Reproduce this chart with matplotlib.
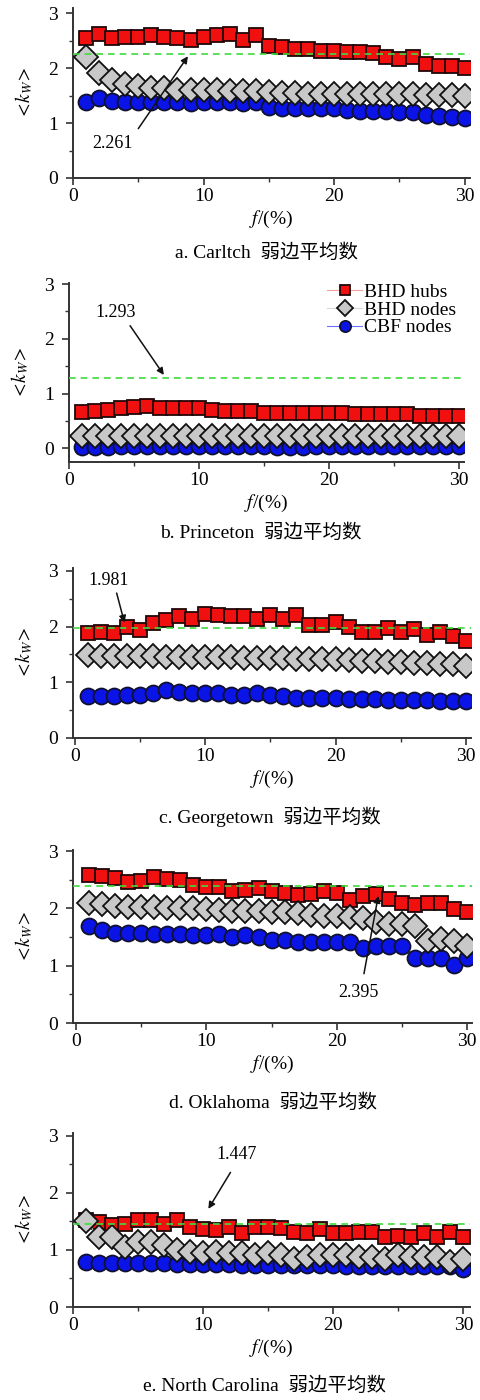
import matplotlib.pyplot as plt
from matplotlib.ticker import MultipleLocator

plt.rcParams['font.family'] = ['Liberation Serif', 'Noto Sans CJK SC']
plt.rcParams['mathtext.fontset'] = 'stix'

f = list(range(1, 31))

# <k_w> of BHD hubs, BHD nodes and CBF nodes for each network
carltch_hubs = [2.56, 2.62, 2.55, 2.58, 2.58, 2.60, 2.58, 2.56, 2.52, 2.58, 2.60, 2.63, 2.52, 2.60, 2.41,
                2.38, 2.35, 2.35, 2.32, 2.32, 2.29, 2.30, 2.28, 2.20, 2.17, 2.20, 2.08, 2.05, 2.05, 2.01]
carltch_nodes = [2.20, 1.91, 1.78, 1.72, 1.67, 1.65, 1.64, 1.61, 1.60, 1.60, 1.60, 1.59, 1.59, 1.58, 1.56,
                 1.55, 1.55, 1.54, 1.54, 1.54, 1.54, 1.54, 1.53, 1.53, 1.53, 1.53, 1.52, 1.52, 1.51, 1.49]
carltch_cbf = [1.39, 1.45, 1.41, 1.39, 1.39, 1.39, 1.38, 1.38, 1.37, 1.38, 1.39, 1.39, 1.37, 1.39, 1.30,
               1.28, 1.28, 1.28, 1.27, 1.27, 1.24, 1.23, 1.23, 1.22, 1.21, 1.21, 1.14, 1.13, 1.12, 1.10]

princeton_hubs = [0.67, 0.68, 0.70, 0.73, 0.76, 0.77, 0.74, 0.73, 0.73, 0.73, 0.70, 0.68, 0.68, 0.68, 0.65,
                  0.65, 0.65, 0.65, 0.65, 0.65, 0.65, 0.62, 0.62, 0.62, 0.62, 0.62, 0.59, 0.59, 0.59, 0.59]
princeton_nodes = [0.23, 0.23, 0.23, 0.23, 0.23, 0.23, 0.23, 0.23, 0.23, 0.23, 0.23, 0.23, 0.23, 0.23, 0.23,
                   0.23, 0.23, 0.23, 0.23, 0.23, 0.23, 0.23, 0.23, 0.23, 0.23, 0.23, 0.23, 0.23, 0.23, 0.23]
princeton_cbf = [0.02, 0.03, 0.03, 0.04, 0.04, 0.04, 0.04, 0.04, 0.04, 0.04, 0.04, 0.04, 0.04, 0.04, 0.04,
                 0.03, 0.03, 0.03, 0.04, 0.04, 0.04, 0.04, 0.04, 0.04, 0.04, 0.04, 0.04, 0.04, 0.04, 0.04]

georgetown_hubs = [1.89, 1.90, 1.89, 1.99, 1.93, 2.07, 2.11, 2.19, 2.13, 2.22, 2.20, 2.19, 2.19, 2.14, 2.20,
                   2.14, 2.20, 2.02, 2.02, 2.08, 1.99, 1.90, 1.90, 1.97, 1.90, 1.95, 1.84, 1.90, 1.83, 1.74]
georgetown_nodes = [1.49, 1.48, 1.48, 1.47, 1.47, 1.47, 1.46, 1.46, 1.46, 1.46, 1.45, 1.45, 1.44, 1.44, 1.43,
                    1.43, 1.42, 1.42, 1.41, 1.41, 1.40, 1.39, 1.38, 1.37, 1.36, 1.35, 1.34, 1.33, 1.32, 1.30]
georgetown_cbf = [0.75, 0.75, 0.75, 0.77, 0.77, 0.80, 0.86, 0.83, 0.80, 0.81, 0.80, 0.77, 0.77, 0.80, 0.77,
                  0.75, 0.72, 0.71, 0.71, 0.71, 0.70, 0.70, 0.70, 0.69, 0.69, 0.69, 0.68, 0.67, 0.67, 0.66]

oklahoma_hubs = [2.59, 2.57, 2.53, 2.47, 2.48, 2.55, 2.51, 2.49, 2.41, 2.37, 2.37, 2.31, 2.33, 2.35, 2.30,
                 2.27, 2.24, 2.26, 2.30, 2.27, 2.15, 2.21, 2.25, 2.16, 2.09, 2.06, 2.10, 2.10, 1.99, 1.93]
oklahoma_nodes = [2.09, 2.08, 2.05, 2.02, 2.02, 2.02, 2.01, 2.00, 2.00, 1.99, 1.97, 1.96, 1.95, 1.95, 1.94,
                  1.93, 1.92, 1.88, 1.87, 1.86, 1.85, 1.83, 1.76, 1.73, 1.72, 1.69, 1.44, 1.47, 1.43, 1.34]
oklahoma_cbf = [1.69, 1.62, 1.57, 1.57, 1.57, 1.55, 1.55, 1.55, 1.54, 1.53, 1.55, 1.51, 1.53, 1.51, 1.45,
                1.45, 1.42, 1.42, 1.42, 1.42, 1.42, 1.31, 1.34, 1.34, 1.35, 1.13, 1.13, 1.13, 1.02, 1.13]

carolina_hubs = [1.53, 1.49, 1.44, 1.46, 1.52, 1.52, 1.46, 1.53, 1.41, 1.36, 1.35, 1.41, 1.30, 1.41, 1.41,
                 1.39, 1.32, 1.30, 1.36, 1.29, 1.29, 1.32, 1.32, 1.22, 1.24, 1.23, 1.29, 1.23, 1.32, 1.23]
carolina_nodes = [1.51, 1.22, 1.23, 1.05, 1.14, 1.14, 1.08, 1.00, 0.97, 0.94, 0.97, 0.94, 0.94, 0.91, 0.95,
                  0.91, 0.85, 0.88, 0.91, 0.91, 0.91, 0.88, 0.88, 0.85, 0.91, 0.88, 0.88, 0.88, 0.79, 0.85]
carolina_cbf = [0.79, 0.77, 0.77, 0.77, 0.77, 0.77, 0.77, 0.76, 0.76, 0.76, 0.76, 0.76, 0.73, 0.73, 0.73,
                0.73, 0.73, 0.73, 0.73, 0.73, 0.71, 0.71, 0.71, 0.71, 0.71, 0.71, 0.71, 0.71, 0.71, 0.66]

# average weak-edge degree of the whole network
network_avg = [2.261, 1.293, 1.981, 2.395, 1.447]
captions = ['a. Carltch  弱边平均数', 'b. Princeton  弱边平均数', 'c. Georgetown  弱边平均数',
            'd. Oklahoma  弱边平均数', 'e. North Carolina  弱边平均数']
series = [
    (carltch_hubs, carltch_nodes, carltch_cbf),
    (princeton_hubs, princeton_nodes, princeton_cbf),
    (georgetown_hubs, georgetown_nodes, georgetown_cbf),
    (oklahoma_hubs, oklahoma_nodes, oklahoma_cbf),
    (carolina_hubs, carolina_nodes, carolina_cbf),
]

W, H = 481, 1400
fig = plt.figure(figsize=(W / 100, H / 100), dpi=100)

# axes boxes in pixels: left, right, bottom, top, plus limits
boxes = [
    (73, 470, 178, 8, (0, 30.4), (0, 3.1)),
    (69, 464, 462, 283, (0, 30.4), (-0.25, 3.02)),
    (73, 471, 738, 568, (-0.15, 30.4), (0, 3.05)),
    (73, 472, 1023, 850, (-0.25, 30.4), (0, 3.02)),
    (73, 470, 1307, 1133, (0, 30.5), (0, 3.05)),
]
# label text position, arrow start, arrow tip (data coords)
notes = [
    ((3.0, 0.63), (5.0, 0.9), (8.8, 2.22)),
    ((3.6, 2.48), (4.7, 2.24), (7.3, 1.34)),
    ((2.6, 2.82), (3.2, 2.6), (3.8, 2.07)),
    ((21.7, 0.53), (22.1, 0.86), (23.2, 2.22)),
    ((12.6, 2.67), (12.1, 2.36), (10.4, 1.72)),
]
caption_pos = [(267, 253), (261, 533), (270, 817), (273, 1103), (265, 1386)]

for i, (hubs, nodes, cbf) in enumerate(series):
    l, r, b, t, xlim, ylim = boxes[i]
    ax = fig.add_axes([l / W, 1 - b / H, (r - l) / W, (b - t) / H])

    ax.plot(f, cbf, '-o', color='#7070ff', lw=0.8, ms=11.5, mfc='#0a14e6', mec='#101030', mew=1.3,
            label='CBF nodes', zorder=2)
    ax.plot(f, hubs, '-s', color='#f0a0a0', lw=0.8, ms=10.6, mfc='#f01010', mec='#200808', mew=1.3,
            label='BHD hubs', zorder=3)
    ax.plot(f, nodes, '-D', color='#d8d8d8', lw=0.8, ms=11.8, mfc='#c8c8c8', mec='#101010', mew=1.3,
            label='BHD nodes', zorder=4)
    ax.axhline(network_avg[i], color='#3ddc3d', lw=1.2, ls=(0, (4, 3)), zorder=5)

    (tx, ty), start, tip = notes[i]
    ax.text(tx, ty, f'{network_avg[i]:.3f}', fontsize=13, ha='center', va='center', zorder=6)
    ax.annotate('', xy=tip, xytext=start, zorder=6,
                arrowprops=dict(arrowstyle='-|>', color='#111111', lw=1.1, mutation_scale=10,
                                shrinkA=0, shrinkB=0))

    ax.set_xlim(*xlim)
    ax.set_ylim(*ylim)
    ax.set_xticks([0, 10, 20, 30])
    ax.set_yticks([0, 1, 2, 3])
    ax.xaxis.set_minor_locator(MultipleLocator(5))
    ax.yaxis.set_minor_locator(MultipleLocator(0.5))
    ax.tick_params(which='major', direction='out', length=5, width=1.2, color='#333333',
                   labelsize=14, pad=2)
    ax.tick_params(axis='y', which='major', pad=6)
    ax.tick_params(which='minor', direction='out', length=3, width=1.0, color='#333333')
    for side in ('top', 'right'):
        ax.spines[side].set_visible(False)
    for side in ('left', 'bottom'):
        ax.spines[side].set_linewidth(1.4)
        ax.spines[side].set_color('#333333')

    ax.set_xlabel(r'$f$/(%)', fontsize=14, labelpad=3)
    ax.set_ylabel(r'$<\!k_W\!>$', fontsize=14, labelpad=9)

    if i == 1:
        handles, labels = ax.get_legend_handles_labels()
        order = [1, 2, 0]
        ax.legend([handles[k] for k in order], [labels[k] for k in order], loc='upper right',
                  bbox_to_anchor=(1.0, 1.04), frameon=False, fontsize=14, markerscale=0.7,
                  handlelength=1.8, handletextpad=0.1, labelspacing=0.0, borderaxespad=0)

    cx, cy = caption_pos[i]
    fig.text(cx / W, 1 - cy / H, captions[i], fontsize=14, ha='center', va='center')

fig.savefig('out.png', dpi=100)
